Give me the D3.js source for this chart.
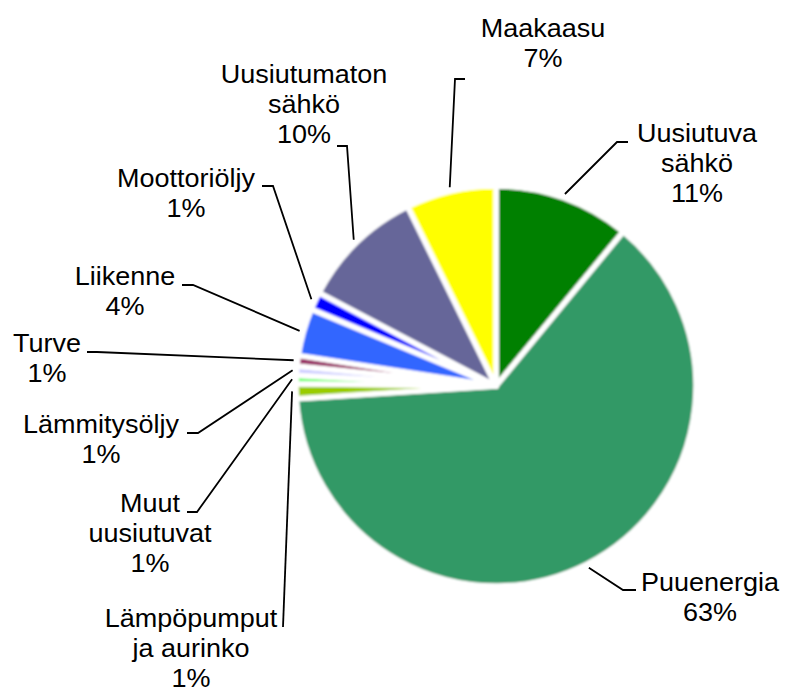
<!DOCTYPE html>
<html><head><meta charset="utf-8">
<script src="https://cdn.jsdelivr.net/npm/d3@7"></script>
<style>body{margin:0;background:#fff}svg{display:block}</style>
</head><body>
<svg id="c" width="787" height="695"></svg>
<script>
// Data
const categories = ["Uusiutuva sähkö","Puuenergia","Lämpöpumput ja aurinko","Muut uusiutuvat","Lämmitysöljy","Turve","Liikenne","Moottoriöljy","Uusiutumaton sähkö","Maakaasu"];
const values = [10.97, 63.0, 1.19, 0.69, 0.72, 0.86, 3.83, 1.44, 10.0, 7.28];
const percentLabels = ["11%","63%","1%","1%","1%","1%","4%","1%","10%","7%"];
const labelLines = [["Uusiutuva","sähkö"],["Puuenergia"],["Lämpöpumput","ja aurinko"],["Muut","uusiutuvat"],["Lämmitysöljy"],["Turve"],["Liikenne"],["Moottoriöljy"],["Uusiutumaton","sähkö"],["Maakaasu"]];
const colors = ["#008000","#339966","#99cc00","#66ff66","#ccccff","#993366","#3366ff","#0000ff","#666699","#ffff00"];

// Layout (label centre x, first baseline y, leader end & elbow)
const labelLayout = [
  {cx:697, y:142, end:[628,142], elbow:[617,142]},
  {cx:710, y:591, end:[636,590], elbow:[623,590]},
  {cx:191, y:627, end:[283,627], elbow:[283,627]},
  {cx:150, y:512, end:[187,512], elbow:[197,512]},
  {cx:101, y:433, end:[187,433], elbow:[198,433]},
  {cx:47,  y:352, end:[87,352],  elbow:[97,352]},
  {cx:125, y:285, end:[182,285], elbow:[193,285]},
  {cx:186, y:187, end:[262,186], elbow:[273,186]},
  {cx:304, y:83,  end:[337,146], elbow:[347,146]},
  {cx:543, y:37,  end:[465,79],  elbow:[455,79]}
];

const cx = 496, cy = 386, R = 200;
const svg = d3.select("#c");
const defs = svg.append("defs");
defs.append("filter").attr("id","soft").append("feGaussianBlur").attr("stdDeviation",0.8);

const data = categories.map((c,i)=>({name:c, value:values[i], i}));
const pie = d3.pie().sort(null).value(d=>d.value).startAngle(0).endAngle(2*Math.PI);
const arcs = pie(data);
const arc = d3.arc().innerRadius(0).outerRadius(R);
const leaderArc = d3.arc().innerRadius(204).outerRadius(204);

const g = svg.append("g").attr("transform",`translate(${cx},${cy})`).attr("filter","url(#soft)");
g.selectAll("path").data(arcs).join("path")
  .attr("d",arc)
  .attr("fill",d=>colors[d.data.i])
  .attr("stroke","#fff")
  .attr("stroke-width",5.5)
  .attr("stroke-linejoin","round");

// Leader lines
const lg = svg.append("g");
arcs.forEach((a,i)=>{
  const p = leaderArc.centroid(a);
  const L = labelLayout[i];
  const pts = [L.end, L.elbow, [p[0]+cx, p[1]+cy]];
  lg.append("path").attr("d", d3.line()(pts))
    .attr("fill","none").attr("stroke","#000").attr("stroke-width",1.8);
});

// Labels
const tg = svg.append("g").attr("font-family","Arial, 'Liberation Sans', sans-serif").attr("font-size",25).attr("fill","#000");
arcs.forEach((a,i)=>{
  const L = labelLayout[i];
  const lines = labelLines[i].concat([percentLabels[i]]);
  const t = tg.append("text").attr("text-anchor","middle")
    .attr("transform",`translate(${L.cx},${L.y}) scale(1.08,1)`);
  lines.forEach((s,k)=>{
    t.append("tspan").attr("x",0).attr("y",k*30).text(s);
  });
});
</script>
</body></html>
